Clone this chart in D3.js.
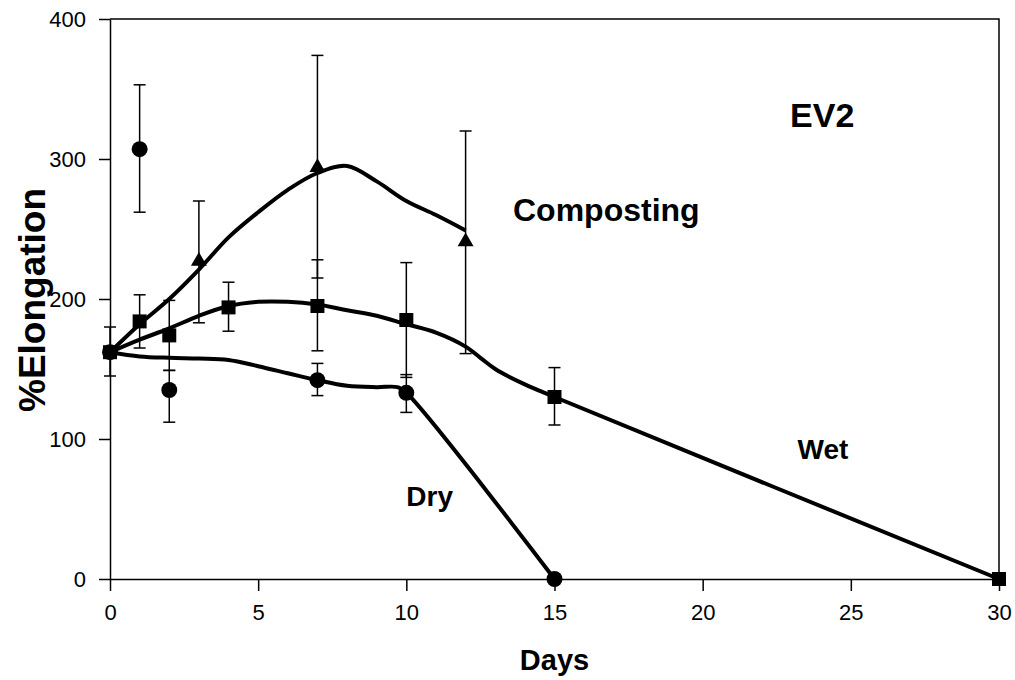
<!DOCTYPE html>
<html><head><meta charset="utf-8">
<script src="https://cdn.jsdelivr.net/npm/d3@7"></script>
<style>body{margin:0;background:#fff}svg{display:block;font-family:"Liberation Sans",Arial,sans-serif}</style>
</head><body>
<svg id="c" width="1015" height="680"></svg>
<script>
// ---- data ----
const xTicks = [0,5,10,15,20,25,30];
const yTicks = [0,100,200,300,400];

const dryDays  = [0,1,2,7,10,15];
const dryVals  = [162,307,135,142,133,0];
const dryLow   = [145,262,112,131,119,null];
const dryHigh  = [180,353,149,154,146,null];

const wetDays  = [0,1,2,4,7,10,15,30];
const wetVals  = [162,184,174,194,195,185,130,0];
const wetLow   = [null,165,149,177,163,144,110,null];
const wetHigh  = [null,203,199,212,228,226,151,null];

const compDays = [0,3,7,12];
const compVals = [162,227,294,241];
const compLow  = [null,183,215,161];
const compHigh = [null,270,374,320];

// fitted trend curves
const compCurveDays = [0,1,2,3,4,5,6,7,8,9,10,11,12];
const compCurveVals = [162,182,200,221,244,262,278,290,295,284,270,260,249];
const wetCurveDays  = [0,1,2,3,4,5,6,7,8,9,10,11,12,12.5,13,14,15,30];
const wetCurveVals  = [162,171,179,188,195,198,198,196,192,188,182,176,166,158,150,139,130,0];
const dryCurveDays  = [0,1,2,3,4,5,6,7,8,9,9.7,10,15];
const dryCurveVals  = [162,159,158,157.5,156.5,152,147,142,138,137,137,133,0];

const labels = [
  {t:"EV2", d:22.95, v:323, size:34},
  {t:"Composting", d:13.6, v:256, size:32},
  {t:"Wet", d:23.2, v:86, size:28},
  {t:"Dry", d:10.0, v:52, size:28}
];

// ---- chart ----
const svg = d3.select("#c");
const x = d3.scaleLinear().domain([0,30]).range([110,999]);
const y = d3.scaleLinear().domain([0,400]).range([579,19]);

// frame (top & right)
svg.append("path").attr("d", `M${x(0)},${y(400)}H${x(30)}V${y(0)}`)
  .attr("fill","none").attr("stroke","#000").attr("stroke-width",1.5);

const ya = svg.append("g").attr("transform",`translate(${x(0)},0)`)
  .call(d3.axisLeft(y).tickValues(yTicks).tickSize(11).tickSizeOuter(0).tickPadding(13));
const xa = svg.append("g").attr("transform",`translate(0,${y(0)})`)
  .call(d3.axisBottom(x).tickValues(xTicks).tickSize(12).tickSizeOuter(0).tickPadding(13));
[ya,xa].forEach(a=>{
  a.selectAll("path,line").attr("stroke","#000").attr("stroke-width",1.5);
  a.selectAll("text").attr("font-size",22).attr("fill","#000").attr("font-family","Liberation Sans, Arial, sans-serif");
});

svg.append("text").attr("x",(x(0)+x(30))/2).attr("y",670).attr("text-anchor","middle")
  .attr("font-size",29).attr("font-weight","bold").text("Days");
svg.append("text").attr("transform","translate(45,300) rotate(-90)").attr("text-anchor","middle")
  .attr("font-size",37).attr("font-weight","bold").text("%Elongation");

// curves
const line = d3.line().x(d=>x(d[0])).y(d=>y(d[1])).curve(d3.curveCatmullRom.alpha(0.5));
[[dryCurveDays,dryCurveVals],[wetCurveDays,wetCurveVals],[compCurveDays,compCurveVals]].forEach(([ds,vs])=>{
  svg.append("path").attr("d", line(ds.map((d,i)=>[d,vs[i]])))
    .attr("fill","none").attr("stroke","#000").attr("stroke-width",4).attr("stroke-linejoin","round");
});

// error bars
function errBars(days, lo, hi){
  const g = svg.append("g").attr("stroke","#000").attr("stroke-width",1.5);
  days.forEach((d,i)=>{
    if(lo[i]==null) return;
    g.append("line").attr("x1",x(d)).attr("x2",x(d)).attr("y1",y(lo[i])).attr("y2",y(hi[i]));
    [lo[i],hi[i]].forEach(v=>g.append("line").attr("x1",x(d)-6).attr("x2",x(d)+6).attr("y1",y(v)).attr("y2",y(v)));
  });
}
errBars(dryDays,dryLow,dryHigh);
errBars(wetDays,wetLow,wetHigh);
errBars(compDays,compLow,compHigh);

// markers
const sym = (type,size)=>d3.symbol().type(type).size(size)();
svg.append("g").selectAll("path").data(dryDays.map((d,i)=>[d,dryVals[i]])).join("path")
  .attr("d",sym(d3.symbolCircle,200)).attr("transform",d=>`translate(${x(d[0])},${y(d[1])})`);
svg.append("g").selectAll("path").data(wetDays.map((d,i)=>[d,wetVals[i]])).join("path")
  .attr("d",sym(d3.symbolSquare,196)).attr("transform",d=>`translate(${x(d[0])},${y(d[1])})`);
svg.append("g").selectAll("path").data(compDays.slice(1).map((d,i)=>[d,compVals[i+1]])).join("path")
  .attr("d",sym(d3.symbolTriangle,110)).attr("transform",d=>`translate(${x(d[0])},${y(d[1])})`);

// labels
labels.forEach(l=>svg.append("text").attr("x",x(l.d)).attr("y",y(l.v)).attr("font-size",l.size)
  .attr("font-weight","bold").text(l.t));
</script>
</body></html>
